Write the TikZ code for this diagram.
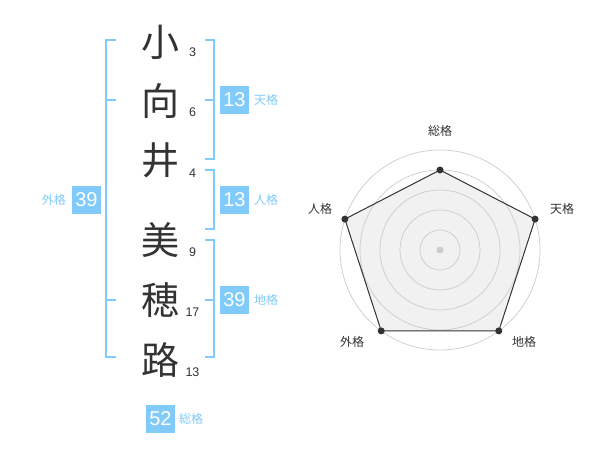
\documentclass[tikz,border=0pt]{standalone}
\usepackage{fontspec}
\setmainfont{Liberation Sans}
\newfontfamily\cjk{Noto Sans CJK JP}
\definecolor{lblue}{HTML}{80CBFA}
\definecolor{dgray}{HTML}{333333}
\definecolor{ringgray}{HTML}{CCCCCC}
\definecolor{polyfill}{HTML}{F1F1F1}
\tikzset{
  kanji/.style={inner sep=0pt, text=dgray, font=\cjk\fontsize{38}{40}\selectfont},
  strokenum/.style={inner sep=0pt, text=dgray, font=\fontsize{12.5}{14}\selectfont},
  valbox/.style={fill=lblue, text=white, inner sep=0pt, minimum width=29pt, minimum height=28pt, font=\fontsize{20}{22}\selectfont},
  vallab/.style={inner sep=0pt, text=lblue, font=\cjk\fontsize{12}{14}\selectfont},
  bracketline/.style={draw=lblue, line width=2pt},
  ring/.style={draw=ringgray, line width=0.7pt},
  polyarea/.style={fill=polyfill},
  polyedge/.style={draw=dgray, line width=1pt, line join=miter},
  vertexdot/.style={circle, fill=dgray, inner sep=0pt, minimum size=7pt},
  radarlab/.style={inner sep=0pt, text=dgray, font=\cjk\fontsize{12}{14}\selectfont}
}
\begin{document}
\begin{tikzpicture}[x=1pt,y=-1pt]
\useasboundingbox[fill=white] (0,0) rectangle (600,470);

% brackets
\draw[bracketline] (116,40) -- (106,40) -- (106,357) -- (116,357);
\draw[bracketline] (106,100) -- (116,100);
\draw[bracketline] (106,300) -- (116,300);
\draw[bracketline] (205,40) -- (214,40) -- (214,159) -- (205,159);
\draw[bracketline] (214,100) -- (205,100);
\draw[bracketline] (205,170) -- (214,170) -- (214,229) -- (205,229);
\draw[bracketline] (205,240) -- (214,240) -- (214,357) -- (205,357);
\draw[bracketline] (214,300) -- (205,300);

% characters
\node[kanji] (c1) at (160,42) {小};
\node[kanji] (c2) at (160,101) {向};
\node[kanji] (c3) at (160,160) {井};
\node[kanji] (c4) at (160,240) {美};
\node[kanji] (c5) at (160,300) {穂};
\node[kanji] (c6) at (160,360) {路};

% stroke counts
\node[strokenum] (n1) at (192.5,52) {3};
\node[strokenum] (n2) at (192.5,112.5) {6};
\node[strokenum] (n3) at (192.5,173) {4};
\node[strokenum] (n4) at (192.5,252) {9};
\node[strokenum] (n5) at (192.5,312) {17};
\node[strokenum] (n6) at (192.5,372) {13};

% values
\node[valbox] (ten) at (234.5,100) {13};
\node[vallab, anchor=west] (tenl) at (254,100) {天格};
\node[valbox] (jin) at (234.5,200) {13};
\node[vallab, anchor=west] (jinl) at (254,200) {人格};
\node[valbox] (chi) at (234.5,300) {39};
\node[vallab, anchor=west] (chil) at (254,300) {地格};
\node[valbox] (gai) at (86.5,200) {39};
\node[vallab, anchor=east] (gail) at (66,200) {外格};
\node[valbox] (sou) at (160.5,419) {52};
\node[vallab, anchor=west] (soul) at (179,419) {総格};

% radar chart
\begin{scope}[shift={(440,250)}, y=1pt]
  \coordinate (pS) at (90:80);
  \coordinate (pT) at (18:100);
  \coordinate (pC) at (-54:100);
  \coordinate (pG) at (-126:100);
  \coordinate (pJ) at (162:100);
  \fill[polyarea] (pS) -- (pT) -- (pC) -- (pG) -- (pJ) -- cycle;
  \foreach \r in {20,40,60,80,100} \draw[ring] (0,0) circle[radius=\r];
  \draw[polyedge] (pS) -- (pT) -- (pC) -- (pG) -- (pJ) -- cycle;
  \foreach \p in {pS,pT,pC,pG,pJ} \node[vertexdot] at (\p) {};
  \node[circle, fill=ringgray, inner sep=0pt, minimum size=7pt] (ctr) at (0,0) {};
\end{scope}
\node[radarlab] (lS) at (440,131) {総格};
\node[radarlab] (lT) at (562,209) {天格};
\node[radarlab] (lJ) at (320,209) {人格};
\node[radarlab] (lG) at (352,342) {外格};
\node[radarlab] (lC) at (524,342) {地格};
\end{tikzpicture}
\end{document}
